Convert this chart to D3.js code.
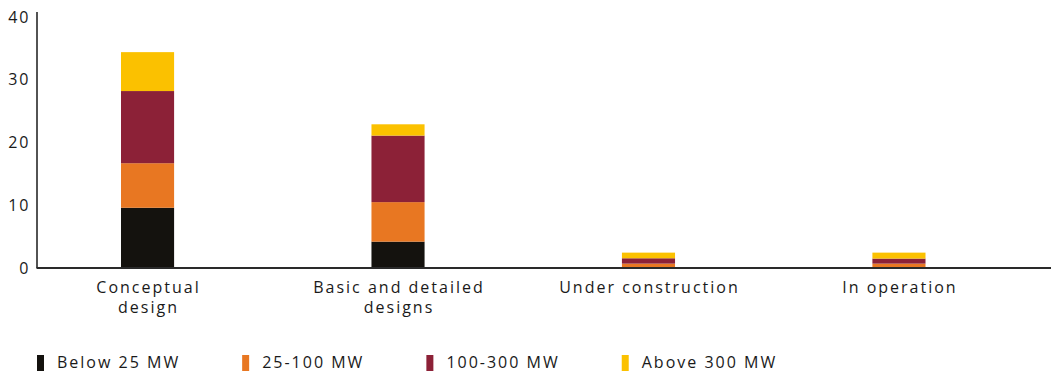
<!DOCTYPE html>
<html>
<head>
<meta charset="utf-8">
<script src="https://cdn.jsdelivr.net/npm/d3@7"></script>
<style>
  html, body { margin: 0; padding: 0; background: #fff; }
  svg text { font-family: "Open Sans", sans-serif; fill: #1a1a1a; }
</style>
</head>
<body>
<svg id="chart" width="1054" height="373"></svg>
<script>
// Project stage categories (label lines)
const categories = ["Conceptual design", "Basic and detailed designs", "Under construction", "In operation"];
const categoryLines = [["Conceptual", "design"], ["Basic and detailed", "designs"], ["Under construction"], ["In operation"]];

// Capacity classes (stack order, bottom to top)
const seriesNames = ["Below 25 MW", "25-100 MW", "100-300 MW", "Above 300 MW"];
const seriesColors = ["#14120e", "#e87722", "#8c2137", "#fbc100"];

// Values per capacity class, one per category
const below25 = [9.6, 4.2, 0, 0];
const mw25to100 = [7.1, 6.3, 0.7, 0.7];
const mw100to300 = [11.5, 10.6, 0.85, 0.8];
const above300 = [6.2, 1.8, 0.9, 0.95];

const yTicks = [0, 10, 20, 30, 40];

const svg = d3.select("#chart");
const fontSize = 16;
const tracking = "2px";

const rows = categories.map((c, i) => ({
  category: c,
  "Below 25 MW": below25[i],
  "25-100 MW": mw25to100[i],
  "100-300 MW": mw100to300[i],
  "Above 300 MW": above300[i]
}));

const stack = d3.stack().keys(seriesNames)(rows);

const x = d3.scaleBand()
  .domain(categories)
  .range([121, 925.5])
  .paddingInner(0.788)
  .paddingOuter(0);

const y = d3.scaleLinear().domain([0, 40]).range([268, 17]);

const color = d3.scaleOrdinal().domain(seriesNames).range(seriesColors);

// Stacked bars
svg.append("g")
  .selectAll("g")
  .data(stack)
  .join("g")
  .attr("fill", d => color(d.key))
  .selectAll("rect")
  .data(d => d)
  .join("rect")
  .attr("x", d => x(d.data.category))
  .attr("width", x.bandwidth())
  .attr("y", d => y(d[1]))
  .attr("height", d => Math.max(0, y(d[0]) - y(d[1])));

// Y axis: line and labels only
const yAxis = d3.axisLeft(y).tickValues(yTicks).tickSize(0).tickPadding(8);
const gy = svg.append("g").attr("transform", "translate(37,0)").call(yAxis);
gy.select(".domain").remove();
gy.selectAll("text")
  .attr("font-size", fontSize)
  .attr("font-family", "Open Sans, sans-serif")
  .attr("letter-spacing", tracking)
  .attr("fill", "#1a1a1a")
  .attr("dx", "1.5px");
svg.append("line")
  .attr("x1", 37).attr("x2", 37)
  .attr("y1", 12).attr("y2", y(0))
  .attr("stroke", "#1a1a1a").attr("stroke-width", 1.5);

// X axis baseline
svg.append("line")
  .attr("x1", 36.5).attr("x2", 1051)
  .attr("y1", y(0)).attr("y2", y(0))
  .attr("stroke", "#2a2a2a").attr("stroke-width", 2);

// Category labels
const xl = svg.append("g");
categories.forEach((c, i) => {
  const cx = x(c) + x.bandwidth() / 2 + 1;
  const t = xl.append("text")
    .attr("text-anchor", "middle")
    .attr("font-size", fontSize)
    .attr("letter-spacing", tracking)
    .attr("x", cx)
    .attr("y", 293);
  categoryLines[i].forEach((line, j) => {
    t.append("tspan")
      .attr("x", cx)
      .attr("dy", j === 0 ? 0 : 20)
      .text(line);
  });
});

// Legend
const legend = svg.append("g").attr("transform", "translate(37,0)");
let lx = 0;
seriesNames.forEach((name, i) => {
  const g = legend.append("g").attr("transform", `translate(${lx},0)`);
  g.append("rect")
    .attr("x", 0).attr("y", 355)
    .attr("width", 7).attr("height", 16)
    .attr("fill", seriesColors[i]);
  const t = g.append("text")
    .attr("x", 20).attr("y", 368)
    .attr("font-size", fontSize)
    .attr("letter-spacing", tracking)
    .text(name);
  lx += 20 + t.node().getComputedTextLength() + 62;
});
</script>
</body>
</html>
